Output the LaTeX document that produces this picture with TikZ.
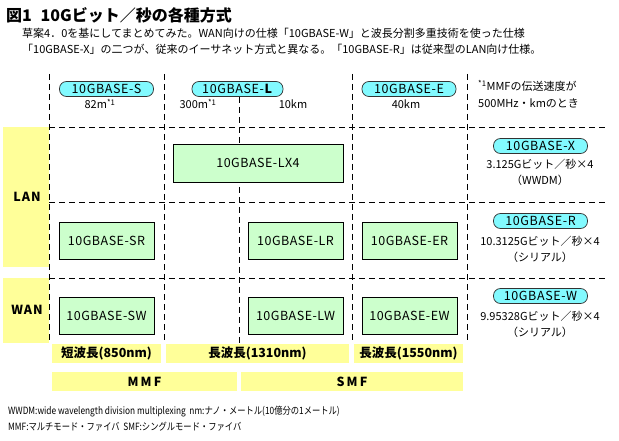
\documentclass[tikz,border=0pt]{standalone}
\usepackage{fontspec}
\setmainfont{Noto Sans CJK JP}
\usetikzlibrary{positioning}
\definecolor{boxgreen}{RGB}{204,255,204}
\definecolor{pillcyan}{RGB}{130,250,255}
\definecolor{bandyellow}{RGB}{255,255,153}
\newcommand{\fs}[1]{\fontsize{#1}{#1}\selectfont}
\begin{document}
\begin{tikzpicture}[x=1pt,y=-1pt, every node/.style={font=\fs{11}, inner sep=0pt}]
  \tikzstyle{phy}=[draw,fill=boxgreen,line width=0.8pt,minimum width=95pt,minimum height=37pt,font=\fs{12.5}\addfontfeature{LetterSpace=4}]
  \tikzstyle{pill}=[draw=black!80,line width=0.7pt,fill=pillcyan,rounded corners=7pt,minimum width=94pt,minimum height=15pt,font=\fs{12.5}\addfontfeature{LetterSpace=5}]
  \tikzstyle{band}=[fill=bandyellow,minimum height=19pt,font=\fs{12.5}\bfseries]
  \tikzstyle{grid}=[line width=0.9pt,dash pattern=on 6pt off 4pt]
  \useasboundingbox (0,0) rectangle (619,441);
  % title
  \node[anchor=west,font=\fs{16}\bfseries] (title) at (6,15) {図1\hspace{0.55em}10Gビット／秒の各種方式};
  \node[anchor=west] (lead1) at (22,33) {草案4．0を基にしてまとめてみた。WAN向けの仕様「10GBASE-W」と波長分割多重技術を使った仕様};
  \node[anchor=west] (lead2) at (22,49) {「10GBASE-X」の二つが、従来のイーサネット方式と異なる。「10GBASE-R」は従来型のLAN向け仕様。};
  % LAN / WAN side bands
  \node[band,minimum width=46pt,minimum height=140pt] (lan) at (26,197) {};
  \node[font=\fs{12.5}\bfseries\addfontfeature{LetterSpace=8}] at (27,197) {LAN};
  \node[band,minimum width=46pt,minimum height=65pt] (wan) at (26,310.5) {};
  \node[font=\fs{12.5}\bfseries\addfontfeature{LetterSpace=8}] at (27,310) {WAN};
  % pills on top
  \node[pill] (pS) at (106.5,89) {10GBASE-S};
  \node[pill,minimum width=91pt] (pL) at (237.5,89) {10GBASE-\textbf{L}};
  \node[pill] (pE) at (409,89) {10GBASE-E};
  \node (dS) at (100,104) {82m\textsuperscript{*1}};
  \node (dL1) at (198,104) {300m\textsuperscript{*1}};
  \node (dL2) at (293,104) {10km};
  \node (dE) at (406,104) {40km};
  \node[anchor=west] (note1) at (478,86) {\textsuperscript{*1}MMFの伝送速度が};
  \node[anchor=west] (note2) at (478,103) {500MHz・kmのとき};
  % grid
  \foreach \gx in {49,164,352,467}
    \draw[grid] (\gx,74) -- (\gx,343);
  \coordinate (lbot) at (239,343);
  \draw[grid] (pL.south -| lbot) -- (lbot);
  \foreach \gy in {127,202,278}
    \draw[grid] (49,\gy) -- (607,\gy);
  % PHY boxes
  \node[phy,minimum width=170pt,minimum height=38pt] (lx4) at (258,163) {10GBASE-LX4};
  \node[phy] (sr) at (106.5,240.5) {10GBASE-SR};
  \node[phy] (lr) at (295.5,240.5) {10GBASE-LR};
  \node[phy] (er) at (409.5,240.5) {10GBASE-ER};
  \node[phy] (sw) at (106.5,316) {10GBASE-SW};
  \node[phy] (lw) at (295.5,316) {10GBASE-LW};
  \node[phy] (ew) at (409.5,316) {10GBASE-EW};
  % right column
  \node[pill] (pX) at (540.5,146) {10GBASE-X};
  \node (tX1) at (540,164) {3.125Gビット／秒×4};
  \node (tX2) at (540,180) {（WWDM）};
  \node[pill] (pR) at (540.5,221) {10GBASE-R};
  \node (tR1) at (540,241) {10.3125Gビット／秒×4};
  \node (tR2) at (540,257) {（シリアル）};
  \node[pill] (pW) at (540.5,296) {10GBASE-W};
  \node (tW1) at (540,316) {9.95328Gビット／秒×4};
  \node (tW2) at (540,332) {（シリアル）};
  % wavelength and fibre bands
  \node[band,minimum width=109pt] (w850) at (106.5,353.5) {短波長(850nm)};
  \node[band,minimum width=183pt] (w1310) at (257.5,353.5) {長波長(1310nm)};
  \node[band,minimum width=109pt] (w1550) at (408.5,353.5) {長波長(1550nm)};
  \node[band,minimum width=185pt] (mmf) at (144.5,381.5) {M\,M\,F};
  \node[band,minimum width=222pt] (smf) at (352,381.5) {S\,M\,F};
  % footnotes
  \node[anchor=west,font=\fs{10}] (foot1) at (8,412) {\scalebox{0.83}[1]{WWDM:wide wavelength division multiplexing\ \ nm:ナノ・メートル(10億分の1メートル)}};
  \node[anchor=west,font=\fs{10}] (foot2) at (8,427) {\scalebox{0.83}[1]{MMF:マルチモード・ファイバ\ \ SMF:シングルモード・ファイバ}};
\end{tikzpicture}
\end{document}
